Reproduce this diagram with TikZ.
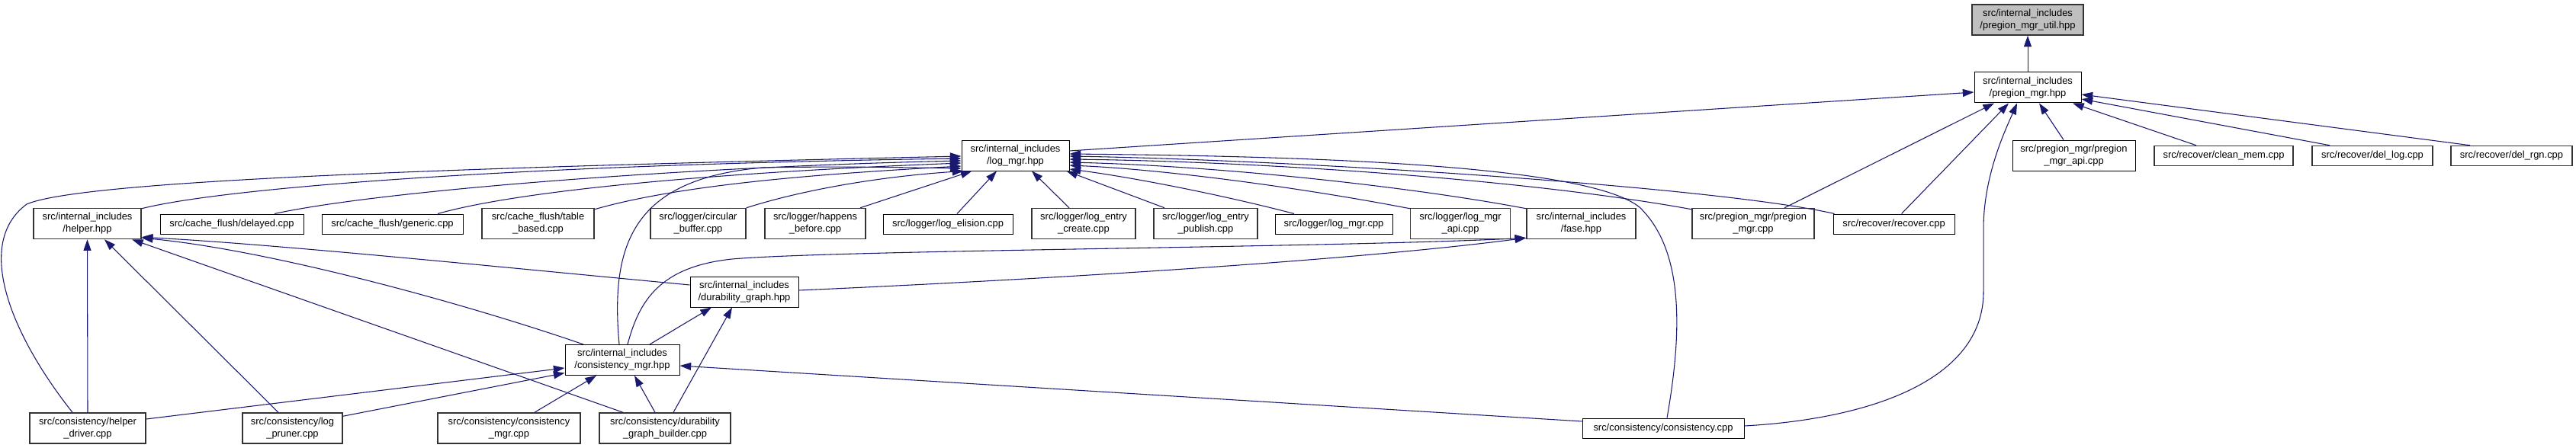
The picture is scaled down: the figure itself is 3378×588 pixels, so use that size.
\documentclass[tikz,border=0pt]{standalone}
\usepackage{fontspec}
\setmainfont{Liberation Sans}
\usetikzlibrary{arrows.meta,calc}
\definecolor{edgec}{HTML}{191970}
\definecolor{greyb}{HTML}{333333}
\definecolor{utilfill}{HTML}{BFBFBF}
\tikzset{
  lbl/.style={font=\fontsize{9.7}{12}\selectfont, align=center, inner sep=0pt, rectangle},
  bx/.style={lbl, draw=black, line width=0.75pt, fill=white},
  gbx/.style={lbl, draw=greyb, line width=1.1pt, fill=white},
  two/.style={minimum height=30pt},
  one/.style={minimum height=19.5pt},
  edge/.style={draw=edgec, line width=0.8pt, -{Triangle[length=11pt,width=7.5pt]}}
}
\begin{document}
\begin{tikzpicture}[x=0.75pt,y=-0.75pt]
\fill[white] (0,0) rectangle (3378,588);
\useasboundingbox (0,0) rectangle (3378,588);

% nodes
\node[gbx, two, minimum width=109.5pt, fill=utilfill] (util) at (2659,26) {src/internal\_includes\\/pregion\_mgr\_util.hpp};
\node[bx, two, minimum width=105pt] (pmgr) at (2659,115) {src/internal\_includes\\/pregion\_mgr.hpp};
\node[bx, two, minimum width=120.75pt] (pmapi) at (2719.5,204) {src/pregion\_mgr/pregion\\\_mgr\_api.cpp};
\node[gbx, one, minimum width=136.5pt] (clean) at (2916,204.5) {src/recover/clean\_mem.cpp};
\node[gbx, one, minimum width=118.5pt] (dellog) at (3111,204.5) {src/recover/del\_log.cpp};
\node[gbx, one, minimum width=119.25pt] (delrgn) at (3293.5,204.5) {src/recover/del\_rgn.cpp};
\node[bx, one, minimum width=119.25pt] (recover) at (2483.5,294) {src/recover/recover.cpp};
\node[gbx, two, minimum width=120pt] (pmcpp) at (2299,293.5) {src/pregion\_mgr/pregion\\\_mgr.cpp};
\node[gbx, two, minimum width=107.25pt] (fase) at (2073.5,293.5) {src/internal\_includes\\/fase.hpp};
\node[gbx, two, minimum width=98.25pt] (lmapi) at (1915,293.5) {src/logger/log\_mgr\\\_api.cpp};
\node[bx, one, minimum width=115.5pt] (lmcpp) at (1749,294) {src/logger/log\_mgr.cpp};
\node[gbx, two, minimum width=102pt] (lepub) at (1581,293.5) {src/logger/log\_entry\\\_publish.cpp};
\node[gbx, two, minimum width=102pt] (lecre) at (1421,293.5) {src/logger/log\_entry\\\_create.cpp};
\node[bx, one, minimum width=127.5pt] (lelis) at (1243,294) {src/logger/log\_elision.cpp};
\node[gbx, two, minimum width=99pt] (hb) at (1069,293.5) {src/logger/happens\\\_before.cpp};
\node[gbx, two, minimum width=93.75pt] (cb) at (915.5,293.5) {src/logger/circular\\\_buffer.cpp};
\node[gbx, two, minimum width=110.25pt] (tb) at (705.5,293.5) {src/cache\_flush/table\\\_based.cpp};
\node[bx, one, minimum width=138.75pt] (gen) at (514.5,294) {src/cache\_flush/generic.cpp};
\node[bx, one, minimum width=141pt] (del) at (304,294) {src/cache\_flush/delayed.cpp};
\node[gbx, two, minimum width=105.75pt] (helper) at (114.5,293.5) {src/internal\_includes\\/helper.hpp};
\node[bx, two, minimum width=105.75pt] (logmgr) at (1331.5,204) {src/internal\_includes\\/log\_mgr.hpp};
\node[bx, two, minimum width=106.5pt] (dg) at (976,383) {src/internal\_includes\\/durability\_graph.hpp};
\node[bx, two, minimum width=112.5pt] (cm) at (816,472.5) {src/internal\_includes\\/consistency\_mgr.hpp};
\node[gbx, two, minimum width=114pt] (hd) at (115,562) {src/consistency/helper\\\_driver.cpp};
\node[gbx, two, minimum width=98.25pt] (lp) at (383.5,562) {src/consistency/log\\\_pruner.cpp};
\node[gbx, two, minimum width=140.25pt] (cmcpp) at (667.5,562) {src/consistency/consistency\\\_mgr.cpp};
\node[gbx, two, minimum width=129pt] (dgb) at (872,562) {src/consistency/durability\\\_graph\_builder.cpp};
\node[bx, one, minimum width=159pt] (ccpp) at (2181,562) {src/consistency/consistency.cpp};

% edges into pregion_mgr_util / pregion_mgr
\draw[edge] (pmgr.north) -- (util.south);
\draw[edge] ($(logmgr.east)+(0,-6)$) -- ($(pmgr.west)+(0,6)$);
\draw[edge] ($(pmapi.north)+(-13.5,0)$) -- ($(pmgr.south)+(15,0)$);
\draw[edge] ($(clean.north)+(-36,0)$) -- ($(pmgr.south)+(59,0)$);
\draw[edge] ($(dellog.north)+(-56,0)$) -- ($(pmgr.east)+(0,15)$);
\draw[edge] ($(delrgn.north)+(-54.5,0)$) -- ($(pmgr.east)+(0,9)$);
\draw[edge] ($(recover.north)+(10,0)$) -- ($(pmgr.south)+(-25,0)$);
\draw[edge] ($(pmcpp.north)+(41,0)$) -- ($(pmgr.south)+(-44,0)$);
\draw[edge] ($(ccpp.east)+(0,-3)$) .. controls (2450,550) and (2601,500) .. (2601,383) -- (2601,300) .. controls (2601,230) and (2630,170) .. ($(pmgr.south)+(-14,0)$);

% edges into log_mgr (left side)
\draw[edge] ($(hd.north)+(-20,0)$) .. controls (15,440) and (-35,320) .. (35,268) .. controls (100,240) and (500,222) .. ($(logmgr.west)+(0,1)$);
\draw[edge] ($(helper.north east)+(0,1)$) .. controls (300,245) and (700,216) .. ($(logmgr.west)+(0,4)$);
\draw[edge] ($(del.north)+(56,0)$) .. controls (500,250) and (900,219) .. ($(logmgr.west)+(0,7)$);
\draw[edge] ($(gen.north)+(59.5,0)$) .. controls (700,245) and (1000,224) .. ($(logmgr.west)+(0,10)$);
\draw[edge] ($(tb.north east)+(0,2)$) .. controls (900,240) and (1100,227) .. ($(logmgr.west)+(0,14)$);
\draw[edge] (cb.north east) .. controls (1050,250) and (1150,232) .. ($(logmgr.south west)+(3,0)$);
\draw[edge] ($(hb.north)+(59,0)$) -- ($(logmgr.south west)+(14,0)$);
\draw[edge] ($(cm.north)+(-4,0)$) .. controls (800,320) and (830,235) .. (1000,220) .. controls (1100,218) and (1200,220) .. ($(logmgr.west)+(0,17)$);
% bottom
\draw[edge] ($(lelis.north)+(12,0)$) -- ($(logmgr.south)+(-24.5,0)$);
\draw[edge] ($(lecre.north)+(-19,0)$) -- ($(logmgr.south)+(21.5,0)$);
\draw[edge] ($(lepub.north)+(-54,0)$) -- ($(logmgr.south east)+(-4,0)$);
% right side
\draw[edge] ($(lmcpp.north)+(-52,0)$) .. controls (1600,255) and (1480,232) .. ($(logmgr.east)+(0,18)$);
\draw[edge] ($(lmapi.north west)+(0,1)$) .. controls (1700,245) and (1520,222) .. ($(logmgr.east)+(0,13)$);
\draw[edge] ($(fase.north west)+(0,1)$) .. controls (1850,245) and (1600,218) .. ($(logmgr.east)+(0,9)$);
\draw[edge] ($(pmcpp.north west)+(0,2)$) .. controls (2000,235) and (1650,212) .. ($(logmgr.east)+(0,5)$);
\draw[edge] ($(recover.north west)+(2,0)$) .. controls (2250,245) and (1700,210) .. ($(logmgr.east)+(0,1)$);
\draw[edge] ($(ccpp.north)+(5,0)$) .. controls (2205,440) and (2210,330) .. (2150,272) .. controls (2080,215) and (1700,205) .. ($(logmgr.east)+(0,-2)$);

% edges into fase
\draw[edge] ($(dg.east)+(0,-2)$) .. controls (1300,370) and (1750,345) .. ($(fase.south west)+(0,-2)$);
\draw[edge] ($(cm.north)+(7,0)$) .. controls (838,395) and (865,350) .. (960,340) .. controls (1100,328) and (1750,325) .. ($(fase.south west)+(0,-2)$);

% edges into helper
\draw[edge] (hd.north) -- (helper.south);
\draw[edge] ($(lp.north)+(-18.5,0)$) -- ($(helper.south)+(22.5,0)$);
\draw[edge] ($(dgb.north)+(-55,0)$) -- ($(helper.south)+(58.5,0)$);
\draw[edge] ($(cm.north)+(-51,0)$) .. controls (600,395) and (350,328) .. ($(helper.south east)+(0,-2)$);
\draw[edge] ($(dg.west)+(0,-9)$) .. controls (600,345) and (350,320) .. ($(helper.south east)+(0,-3)$);

% edges into durability_graph
\draw[edge] ($(cm.north)+(36,0)$) -- ($(dg.south)+(-43,0)$);
\draw[edge] ($(dgb.north)+(11,0)$) -- ($(dg.south)+(-16,0)$);

% edges into consistency_mgr
\draw[edge] ($(hd.east)+(0,-12)$) -- ($(cm.west)+(0,10.5)$);
\draw[edge] ($(lp.north east)+(0,5)$) -- ($(cm.west)+(0,17)$);
\draw[edge] ($(cmcpp.north)+(33.5,0)$) -- ($(cm.south)+(-34,0)$);
\draw[edge] ($(dgb.north)+(-13,0)$) -- ($(cm.south)+(16,0)$);
\draw[edge] ($(ccpp.west)+(0,-9)$) -- ($(cm.east)+(0,7.5)$);
\end{tikzpicture}
\end{document}
